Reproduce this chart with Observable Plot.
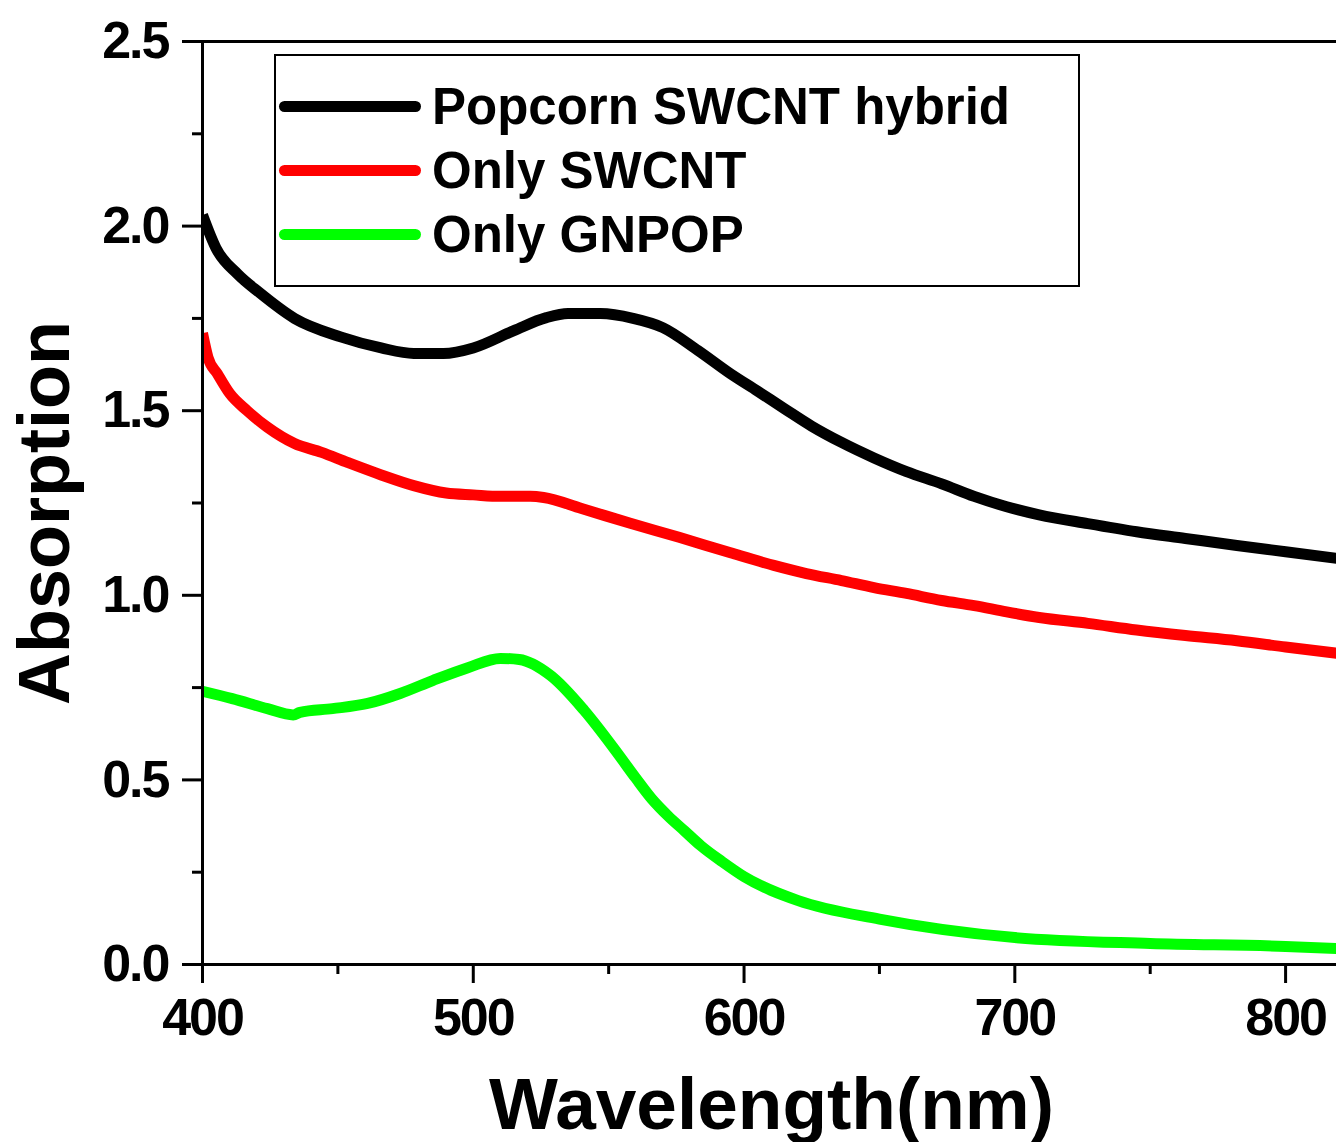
<!DOCTYPE html>
<html>
<head>
<meta charset="utf-8">
<script src="https://cdn.jsdelivr.net/npm/d3@7"></script>
<script src="https://cdn.jsdelivr.net/npm/@observablehq/plot@0.6"></script>
<style>
  html, body { margin: 0; padding: 0; background: #fff; }
  #wrap { position: relative; width: 1336px; height: 1142px; overflow: hidden; font-family: "Liberation Sans", Arial, sans-serif; font-weight: bold; }
  #wrap svg { display: block; }
  #wrap svg g[aria-label="x-axis tick label"] text,
  #wrap svg g[aria-label="y-axis tick label"] text { letter-spacing: -2px; }
  #legend { position: absolute; left: 274px; top: 54px; width: 806px; height: 233px; box-sizing: border-box; border: 2px solid #000; background: #fff; }
  .swatch { position: absolute; left: 3px; width: 142px; height: 11px; border-radius: 6px; }
  .ltext { position: absolute; left: 156px; font-size: 51px; line-height: 51px; white-space: nowrap; color: #000; }
</style>
</head>
<body>
<div id="wrap"></div>
<script>
// Series names and colours
const seriesNames = ["Popcorn SWCNT hybrid", "Only SWCNT", "Only GNPOP"];
const seriesColors = ["#000000", "#ff0000", "#00ff00"];

// Popcorn SWCNT hybrid
const hybridW = [400, 405, 413, 421, 434, 451, 466, 478, 489, 500, 515, 527, 535, 547, 559, 570, 583, 595, 605, 615, 625, 636, 648, 660, 673, 685, 697, 709, 727, 745, 763, 782, 800, 819];
const hybridA = [2.03, 1.94, 1.87, 1.82, 1.75, 1.70, 1.67, 1.655, 1.655, 1.67, 1.717, 1.752, 1.763, 1.763, 1.75, 1.725, 1.663, 1.60, 1.553, 1.505, 1.458, 1.414, 1.372, 1.335, 1.302, 1.268, 1.24, 1.218, 1.194, 1.172, 1.154, 1.135, 1.118, 1.10];

// Only SWCNT
const swcntW = [400, 402, 405.5, 410, 416.5, 424, 434, 444, 453.5, 466, 478, 490, 500, 510, 521, 526, 540, 558, 576, 595, 611, 623, 636, 648, 660, 673, 685, 697, 709, 727, 745, 763, 782, 800, 819];
const swcntA = [1.71, 1.645, 1.60, 1.547, 1.50, 1.455, 1.411, 1.387, 1.36, 1.326, 1.297, 1.277, 1.272, 1.268, 1.268, 1.265, 1.235, 1.195, 1.157, 1.115, 1.081, 1.059, 1.04, 1.021, 1.005, 0.986, 0.972, 0.955, 0.94, 0.924, 0.906, 0.891, 0.877, 0.86, 0.843];

// Only GNPOP
const gnpopW = [400, 411, 424, 433.5, 436, 448, 461, 473, 485, 498, 510, 517, 528.5, 541, 553, 560, 566, 572, 578, 584, 592, 600, 620, 650, 700, 750, 800, 819];
const gnpopA = [0.74, 0.72, 0.693, 0.676, 0.683, 0.693, 0.707, 0.734, 0.769, 0.804, 0.829, 0.826, 0.783, 0.688, 0.575, 0.505, 0.448, 0.402, 0.362, 0.322, 0.278, 0.238, 0.173, 0.123, 0.073, 0.057, 0.049, 0.043];

// Axis ticks
const xTicks = [400, 500, 600, 700, 800];
const xMinor = [450, 550, 650, 750];
const yTicks = [0, 0.5, 1.0, 1.5, 2.0, 2.5];
const yMinor = [0.25, 0.75, 1.25, 1.75, 2.25];

const xLabel = "Wavelength(nm)";
const yLabel = "Absorption";

const toRows = (name, W, A) => W.map((w, i) => ({series: name, w, a: A[i]}));
const data = [
  ...toRows(seriesNames[0], hybridW, hybridA),
  ...toRows(seriesNames[1], swcntW, swcntA),
  ...toRows(seriesNames[2], gnpopW, gnpopA)
];

const chart = Plot.plot({
  width: 1336,
  height: 1142,
  marginLeft: 202,
  marginRight: 0,
  marginTop: 41,
  marginBottom: 178,
  style: {fontFamily: "'Liberation Sans', Arial, sans-serif", fontWeight: "bold", background: "#fff", color: "#000", overflow: "visible"},
  x: {domain: [400, 818.8]},
  y: {domain: [0, 2.5]},
  color: {domain: seriesNames, range: seriesColors},
  marks: [
    Plot.line(data, {x: "w", y: "a", z: "series", stroke: "series", strokeWidth: 11, curve: "monotone-x", strokeLinejoin: "round", strokeLinecap: "butt", clip: true}),
    Plot.ruleX([400], {strokeWidth: 3}),
    Plot.ruleY([0], {strokeWidth: 3}),
    Plot.ruleY([2.5], {strokeWidth: 3}),
    Plot.axisX(xTicks, {tickSize: 19, tickPadding: 15, fontSize: 52, strokeWidth: 3, tickFormat: d => String(d), label: null}),
    Plot.axisX(xMinor, {tickSize: 10, strokeWidth: 3, tickFormat: () => "", label: null}),
    Plot.axisY(yTicks, {tickSize: 20, tickPadding: 14, fontSize: 52, strokeWidth: 3, tickFormat: d3.format(".1f"), label: null}),
    Plot.axisY(yMinor, {tickSize: 10, strokeWidth: 3, tickFormat: () => "", label: null}),
    Plot.text([xLabel], {frameAnchor: "bottom", textAnchor: "middle", lineAnchor: "bottom", dy: 164, dx: 2, fontSize: 73, fontWeight: "bold"}),
    Plot.text([yLabel], {frameAnchor: "left", textAnchor: "middle", lineAnchor: "bottom", rotate: -90, dx: -134, dy: 10, fontSize: 72, fontWeight: "bold"})
  ]
});

const wrap = document.getElementById("wrap");
wrap.appendChild(chart);

// Legend overlay
const legend = document.createElement("div");
legend.id = "legend";
const rowCenters = [50, 114, 178];
seriesNames.forEach((name, i) => {
  const sw = document.createElement("div");
  sw.className = "swatch";
  sw.style.top = (rowCenters[i] - 5.5) + "px";
  sw.style.background = seriesColors[i];
  legend.appendChild(sw);
  const t = document.createElement("div");
  t.className = "ltext";
  t.style.top = (rowCenters[i] + 18 - 43.2) + "px";
  t.textContent = name;
  legend.appendChild(t);
});
wrap.appendChild(legend);
</script>
</body>
</html>
